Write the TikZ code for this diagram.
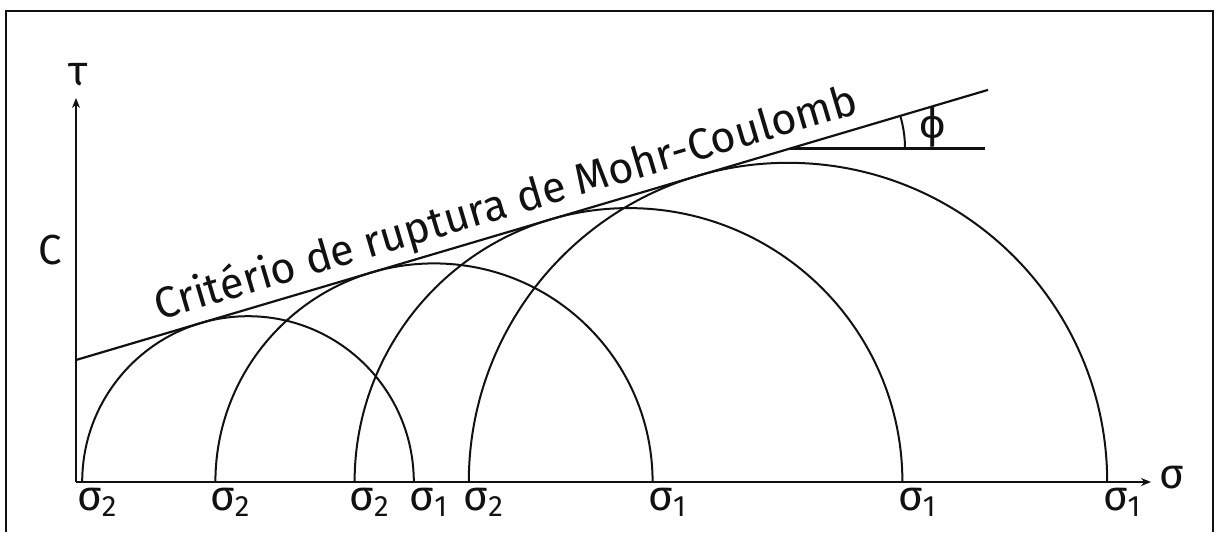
\documentclass[tikz,border=0pt]{standalone}
\usepackage{fontspec}
\setmainfont{Fira Sans}
\usetikzlibrary{arrows.meta, calc}
\definecolor{cink}{HTML}{111111}
\tikzset{
  every picture/.style={font=\fontsize{21}{24}\selectfont, line width=0.8pt},
  axis/.style={-{Stealth[length=5pt, width=4pt]}, draw=cink, line width=1.2pt},
  mohr/.style={draw=cink, line width=1pt},
  envelope/.style={draw=cink, line width=1.1pt},
  lbl/.style={inner sep=0pt, text=cink},
}

\begin{document}
\begin{tikzpicture}[x=0.5pt, y=0.5pt]
  \useasboundingbox (-76,-50) rectangle (1139,482);
  \draw[cink, line width=1.3pt] (-70,-50) -- (-70,471) -- (1137,471) -- (1137,-50);
  % axes
  \coordinate (o) at (0,0);
  \coordinate (ytip) at (0,384);
  \coordinate (xtip) at (1075,0);
  \draw[axis] (o) -- (ytip);
  \draw[axis] (o) -- (xtip);
  \node[lbl] (tau) at (2,407) {τ};
  \node[lbl] (sig) at (1096,4) {σ};
  \node[lbl] (coh) at (-26,232) {C};
  % Mohr circles
  \foreach \c/\r [count=\i] in {172/165.8, 358/218.6, 552.5/273.9, 712/319.2} {
    \draw[mohr] (\c+\r,0) arc[start angle=0, end angle=180, radius=\r];
    \node[lbl, anchor=north] (lo\i) at (\c-\r+15,-5) {σ\textsubscript{2}};
    \node[lbl, anchor=north] (hi\i) at (\c+\r+15,-5) {σ\textsubscript{1}};
  }
  % envelope
  \coordinate (c0) at (0,122);
  \coordinate (etip) at (912,392.1);
  \draw[envelope] (c0) -- node[lbl, pos=.48, sloped, above=2pt, font=\fontsize{21.7}{24}\selectfont] (crit) {Critério de ruptura de Mohr-Coulomb} (etip);
  % friction angle
  \coordinate (v) at (714,333.5);
  \coordinate (h) at (909,333.5);
  \draw[envelope] (v) -- (h);
  \draw[mohr] ($(v)+(115,0)$) arc[start angle=0, end angle=16.5, radius=115];
  \node[lbl] (phi) at (857,355) {ϕ};
\end{tikzpicture}
\end{document}
